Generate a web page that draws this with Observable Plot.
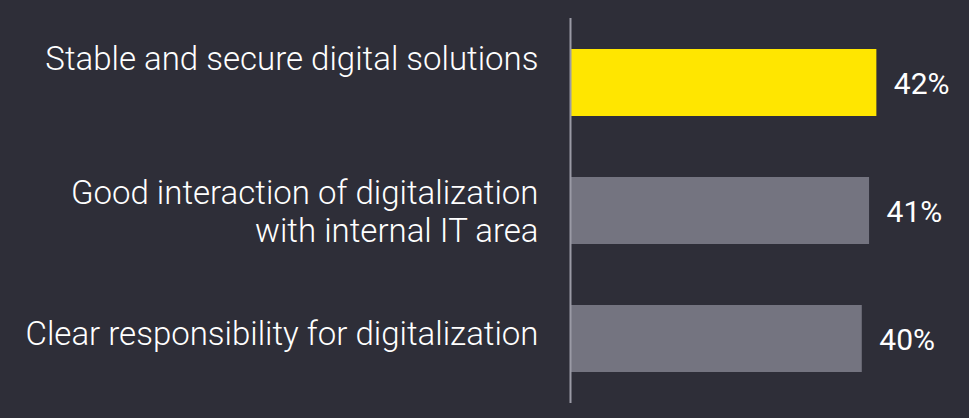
<!DOCTYPE html>
<html>
<head>
<meta charset="utf-8">
<script src="https://cdn.jsdelivr.net/npm/d3@7"></script>
<script src="https://cdn.jsdelivr.net/npm/@observablehq/plot@0.6"></script>
<style>
  html, body { margin: 0; padding: 0; background: #2e2e38; }
  #chart svg { display: block; }
</style>
</head>
<body>
<div id="chart"></div>
<script>
const categories = [
  "Stable and secure digital solutions",
  "Good interaction of digitalization\nwith internal IT area",
  "Clear responsibility for digitalization"
];
const values = [42, 41, 40];
const highlight = [true, false, false];

const data = categories.map((c, i) => ({category: c, value: values[i], highlight: highlight[i]}));
const labelDy = [-25, 0, -6];

const chart = Plot.plot({
  width: 969,
  height: 418,
  marginLeft: 570,
  marginRight: 0,
  marginTop: 18,
  marginBottom: 15,
  style: {background: "#2e2e38", color: "#ffffff", fontFamily: "Roboto, 'Open Sans', sans-serif"},
  x: {domain: [0, 54.7], axis: null},
  y: {domain: categories, axis: null, paddingInner: 0.4766, paddingOuter: 0.242},
  marks: [
    Plot.barX(data, {x: "value", y: "category", fill: d => d.highlight ? "#ffe600" : "#747480"}),
    Plot.ruleX([0], {stroke: "#9a9aa5", strokeWidth: 2}),
    Plot.text(data, {
      x: "value", y: "category", text: d => `${d.value}%`,
      textAnchor: "start", dx: 17, dy: 1, fill: "#ffffff", fontSize: 30, fontWeight: 400
    }),
    ...data.map((d, i) => Plot.text([d], {
      y: "category", text: "category", frameAnchor: "left",
      textAnchor: "end", dx: -32, dy: labelDy[i], lineHeight: 1.13,
      fill: "#ffffff", fontSize: 33, fontWeight: 300
    }))
  ]
});
document.getElementById("chart").appendChild(chart);
</script>
</body>
</html>
